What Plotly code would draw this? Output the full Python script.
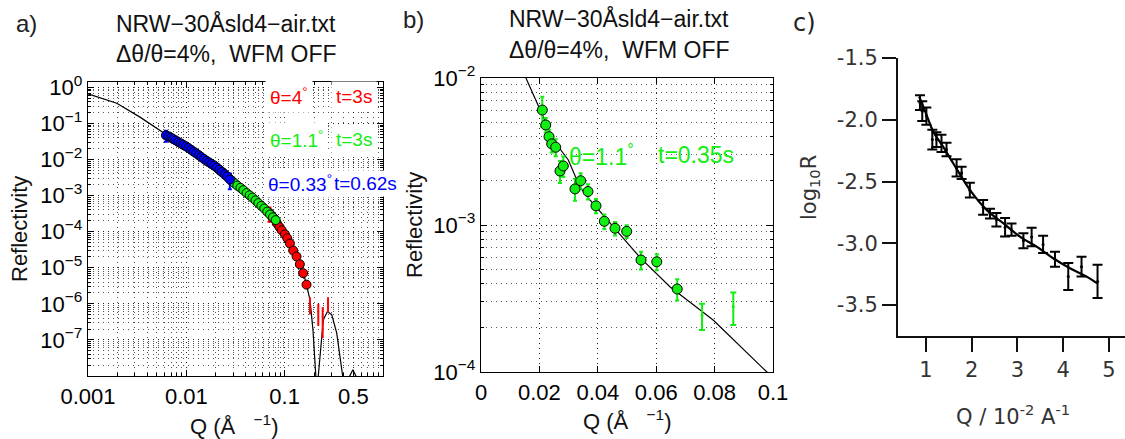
import plotly.graph_objects as go

W, H = 1125, 439

# ---- fitted reflectivity curve (shared by panels a and b) ----
fit_q = [0.0010, 0.00196, 0.00338, 0.0058, 0.0102, 0.0152, 0.0202, 0.0247, 0.0299, 0.0339,
         0.0373, 0.0452, 0.0545, 0.0647, 0.0795, 0.0979, 0.1188, 0.1432, 0.161, 0.181,
         0.194, 0.2074, 0.213, 0.2197, 0.238, 0.247, 0.272, 0.301, 0.338, 0.365,
         0.389, 0.42, 0.459, 0.494, 0.53, 0.56]
fit_r = [0.66, 0.363, 0.150, 0.0560, 0.0224, 0.0102, 0.0061, 0.0038, 0.00277, 0.00181,
         0.00148, 0.00097, 0.00060, 0.00038, 0.000226, 0.000100, 3.8e-5, 1.29e-5, 4.9e-6, 1.29e-6,
         1.9e-7, 1.0e-8, 1e-10, 1.0e-8, 1.24e-7, 3.6e-7, 6.1e-7, 5.0e-7, 1.57e-7, 3.5e-8,
         1.0e-8, 1e-10, 1.0e-8, 1.5e-8, 1.0e-8, 1e-10]

# ---- panel a : theta = 0.33 deg (blue) ----
blue_q = [0.0062, 0.0066, 0.0070, 0.0074, 0.0078, 0.0083, 0.0088, 0.0093, 0.0099, 0.0105,
          0.0112, 0.0119, 0.0126, 0.0134, 0.0142, 0.0151, 0.0160, 0.0170, 0.0181, 0.0192,
          0.0204, 0.0217, 0.0230, 0.0245, 0.0260, 0.0277]
blue_r = [0.047, 0.0440, 0.0404, 0.0366, 0.0340, 0.0305, 0.0280, 0.0256, 0.0233, 0.0210,
          0.0186, 0.0165, 0.0148, 0.0132, 0.0117, 0.0104, 0.0093, 0.0084, 0.0075, 0.0068,
          0.0060, 0.0052, 0.0045, 0.0039, 0.0034, 0.0028]
blue_err = [0.016, 0.0015, 0.0013, 0.0011, 0.0010, 0.0009, 0.0008, 0.0008, 0.0007, 0.0006,
            0.0006, 0.0005, 0.0005, 0.0004, 0.0004, 0.0003, 0.0003, 0.0003, 0.0003, 0.0002,
            0.0002, 0.0002, 0.0002, 0.0002, 0.0002, 0.0013]

# ---- panel a : theta = 1.1 deg, t = 3 s (green) ----
green_q = [0.019, 0.0205, 0.022, 0.0235, 0.025, 0.027, 0.029, 0.031, 0.033, 0.0355,
           0.038, 0.041, 0.044, 0.047, 0.0505, 0.054, 0.058, 0.062, 0.0665, 0.071,
           0.076, 0.081]
green_r = [0.0069, 0.0059, 0.0050, 0.0044, 0.0037, 0.0031, 0.0026, 0.0022, 0.0019, 0.00165,
           0.00142, 0.00118, 0.00102, 0.00088, 0.00074, 0.00062, 0.00052, 0.00044, 0.00036, 0.00030,
           0.00025, 0.00021]
green_err = [0.0008, 0.0003, 0.0003, 0.0002, 0.0002, 0.00015, 0.00013, 0.00011, 0.0001, 0.00008,
             0.00007, 0.00006, 0.00005, 0.00004, 0.00004, 0.00003, 0.00003, 0.00002, 0.00002, 0.00002,
             0.00002, 0.00003]

# ---- panel a : theta = 4 deg (red) ----
red_q = [0.070, 0.074, 0.078, 0.0834, 0.0885, 0.0932, 0.1007, 0.1063, 0.1131, 0.1222,
         0.1321, 0.1427, 0.1542, 0.1668]
red_r = [3.3e-4, 2.75e-4, 2.35e-4, 1.7e-4, 1.35e-4, 1.1e-4, 8.4e-5, 6.6e-5, 4.7e-5, 3.0e-5,
         2.05e-5, 1.25e-5, 7.1e-6, 3.4e-6]
red_err = [1.4e-4, 1.0e-5, 8e-6, 6e-6, 5e-6, 4e-6, 3e-6, 3e-6, 2e-6, 1.5e-6,
           1.2e-6, 1.0e-6, 6e-7, 4e-7]
red_bar_q = [0.181, 0.2197, 0.2436, 0.2761]
red_bar_r = [9.9e-7, 6.0e-7, 4.4e-7, 1.02e-6]
red_bar_err = [4.5e-7, 3.4e-7, 3.2e-7, 4.1e-7]

# ---- panel b : theta = 1.1 deg, t = 0.35 s ----
b_q = [0.0210, 0.02216, 0.02329, 0.02421, 0.02558, 0.02705, 0.02818, 0.03219, 0.03414, 0.03664,
       0.03938, 0.04223, 0.04589, 0.0499, 0.0548, 0.0602, 0.0672]
b_r = [6.05e-3, 4.79e-3, 3.99e-3, 3.56e-3, 3.38e-3, 2.33e-3, 2.52e-3, 1.76e-3, 2.0e-3, 1.69e-3,
       1.35e-3, 1.06e-3, 9.5e-4, 9.05e-4, 5.78e-4, 5.62e-4, 3.67e-4]
b_err = [1.4e-3, 5.5e-4, 4.5e-4, 4.5e-4, 4.5e-4, 4.0e-4, 4.0e-4, 3.0e-4, 2.5e-4, 2.0e-4,
         1.5e-4, 1.2e-4, 1.0e-4, 9e-5, 8e-5, 7e-5, 6e-5]
b_bar_q = [0.0757, 0.0864]
b_bar_r = [2.42e-4, 2.78e-4]
b_bar_err = [4.9e-5, 6.9e-5]

# ---- panel c ----
c_q = [0.87, 0.92, 1.01, 1.14, 1.23, 1.34, 1.45, 1.67, 1.78, 1.96, 2.25, 2.40, 2.54, 2.73,
       2.87, 3.13, 3.31, 3.56, 3.82, 4.11, 4.40, 4.75]
c_logr = [-1.86, -1.93, -1.97, -2.16, -2.16, -2.19, -2.24, -2.39, -2.43, -2.57, -2.71, -2.76,
          -2.81, -2.87, -2.89, -2.98, -2.95, -3.01, -3.13, -3.27, -3.19, -3.31]
c_err = [0.06, 0.08, 0.07, 0.08, 0.06, 0.07, 0.055, 0.07, 0.05, 0.06, 0.06, 0.04, 0.055, 0.075,
         0.05, 0.06, 0.075, 0.07, 0.06, 0.11, 0.08, 0.135]
c_fit_q = [0.853, 1.013, 1.160, 1.378, 1.596, 1.961, 2.325, 2.689, 3.054, 3.418, 3.781,
           4.146, 4.512, 4.743]
c_fit_logr = [-1.811, -1.960, -2.095, -2.22, -2.352, -2.568, -2.730, -2.838, -2.947, -3.028,
              -3.122, -3.203, -3.271, -3.325]

a_yticks = [1e-7, 1e-6, 1e-5, 1e-4, 1e-3, 1e-2, 1e-1, 1]
a_ytext = ["10<sup>−7</sup>", "10<sup>−6</sup>", "10<sup>−5</sup>", "10<sup>−4</sup>",
           "10<sup>−3</sup>", "10<sup>−2</sup>", "10<sup>−1</sup>", "10<sup>0</sup>"]
a_xticks = [0.001, 0.01, 0.1, 0.5]
a_xtext = ["0.001", "0.01", "0.1", "0.5"]
b_yticks = [1e-4, 1e-3, 1e-2]
b_ytext = ["10<sup>−4</sup>", "10<sup>−3</sup>", "10<sup>−2</sup>"]
c_xticks = [1, 2, 3, 4, 5]
c_yticks = [-3.5, -3.0, -2.5, -2.0, -1.5]
c_ytext = ["-3.5", "-3.0", "-2.5", "-2.0", "-1.5"]

RED, GREEN, BLUE = "#ff0000", "#11ee11", "#0000ff"
HELV = "Liberation Sans, Arial, sans-serif"
CFONT = "DejaVu Sans, sans-serif"


def px(x):
    return x / W


def py(y):
    return 1 - y / H


fig = go.Figure()

# panel a
fig.add_trace(go.Scatter(x=fit_q, y=fit_r, mode="lines", line=dict(color="black", width=1.2),
                         xaxis="x", yaxis="y", showlegend=False))
fig.add_trace(go.Scatter(x=red_bar_q, y=red_bar_r, mode="markers",
                         marker=dict(size=2, color=RED),
                         error_y=dict(type="data", array=red_bar_err, color=RED, thickness=2, width=1),
                         xaxis="x", yaxis="y", showlegend=False))
for q, r, e, c in [(red_q, red_r, red_err, RED), (green_q, green_r, green_err, GREEN),
                   (blue_q, blue_r, blue_err, BLUE)]:
    fig.add_trace(go.Scatter(x=q, y=r, mode="markers",
                             marker=dict(size=9, color=c, line=dict(color="black", width=1)),
                             error_y=dict(type="data", array=e, color=c, thickness=2, width=2),
                             xaxis="x", yaxis="y", showlegend=False))

# panel b
fig.add_trace(go.Scatter(x=fit_q, y=fit_r, mode="lines", line=dict(color="black", width=1.2),
                         xaxis="x2", yaxis="y2", showlegend=False))
fig.add_trace(go.Scatter(x=b_bar_q, y=b_bar_r, mode="markers", marker=dict(size=3, color=GREEN),
                         error_y=dict(type="data", array=b_bar_err, color=GREEN, thickness=2, width=3),
                         xaxis="x2", yaxis="y2", showlegend=False))
fig.add_trace(go.Scatter(x=b_q, y=b_r, mode="markers",
                         marker=dict(size=10, color=GREEN, line=dict(color="black", width=1)),
                         error_y=dict(type="data", array=b_err, color=GREEN, thickness=2, width=2),
                         xaxis="x2", yaxis="y2", showlegend=False))

# panel c
fig.add_trace(go.Scatter(x=c_fit_q, y=c_fit_logr, mode="lines", line=dict(color="black", width=2.2, shape="spline"),
                         xaxis="x3", yaxis="y3", showlegend=False))
fig.add_trace(go.Scatter(x=c_q, y=c_logr, mode="markers", marker=dict(size=3, color="black"),
                         error_y=dict(type="data", array=c_err, color="black", thickness=2, width=5),
                         xaxis="x3", yaxis="y3", showlegend=False))

tick_font = dict(family=HELV, size=22, color="black")
box = dict(showline=True, linecolor="black", linewidth=1.4, mirror="allticks", ticks="inside",
           ticklen=6, tickwidth=1, tickcolor="black", zeroline=False, tickfont=tick_font,
           showgrid=True, gridcolor="#222", griddash="1px,4px", gridwidth=1)
log_minor = dict(dtick="D1", ticks="inside", ticklen=3, tickcolor="black", showgrid=True,
                 gridcolor="#555", griddash="1px,4px", gridwidth=1)

fig.update_layout(
    width=W, height=H, margin=dict(l=0, r=0, t=0, b=0), template="none",
    paper_bgcolor="white", plot_bgcolor="white", showlegend=False,
    xaxis=dict(box, type="log", range=[-3, 0], domain=[px(88), px(383)], anchor="y",
               tickmode="array", tickvals=a_xticks, ticktext=a_xtext, minor=log_minor),
    yaxis=dict(box, type="log", range=[-8, 0.15], domain=[py(376), py(82)], anchor="x",
               tickmode="array", tickvals=a_yticks, ticktext=a_ytext, minor=log_minor),
    xaxis2=dict(box, range=[0, 0.1], domain=[px(481), px(773)], anchor="y2",
                tickmode="linear", tick0=0, dtick=0.02),
    yaxis2=dict(box, type="log", range=[-4, -2], domain=[py(372), py(78)], anchor="x2",
                tickmode="array", tickvals=b_yticks, ticktext=b_ytext, minor=log_minor),
    xaxis3=dict(range=[0.39, 5.35], domain=[px(898), 1.0], anchor="y3", showline=True,
                linecolor="#111", linewidth=2, ticks="outside", ticklen=14, tickwidth=2,
                tickcolor="#111", tickvals=c_xticks, showgrid=False, zeroline=False,
                tickfont=dict(family=CFONT, size=21, color="#333")),
    yaxis3=dict(range=[-3.752, -1.499], domain=[py(336), py(58)], anchor="x3", showline=True,
                linecolor="#111", linewidth=2, ticks="outside", ticklen=14, tickwidth=2,
                tickcolor="#111", tickvals=c_yticks, ticktext=c_ytext, showgrid=False,
                zeroline=False, tickfont=dict(family=CFONT, size=21, color="#333")),
)

ann = []


def text(x, y, s, size=22, color="#111", family=HELV, angle=0, xanchor="center", bg=None, pad=1):
    d = dict(x=px(x), y=py(y), xref="paper", yref="paper", text=s, showarrow=False,
             font=dict(family=family, size=size, color=color), textangle=angle,
             xanchor=xanchor, yanchor="middle", borderpad=pad)
    if bg:
        d["bgcolor"] = bg
    ann.append(d)


# panel letters
text(26, 24, "a)", size=24, color="#222")
text(413, 20, "b)", size=24, color="#222")
text(805, 23, "c)", size=24, color="#222", family=CFONT)

# titles
text(226, 23, "NRW−30Åsld4−air.txt", size=23)
text(226, 54, "Δθ/θ=4%,  WFM OFF", size=23)
text(619, 19, "NRW−30Åsld4−air.txt", size=23)
text(619, 50, "Δθ/θ=4%,  WFM OFF", size=23)

# axis titles
text(234, 425, "Q (Å   <sup>−1</sup>)", size=22)
text(627, 420, "Q (Å   <sup>−1</sup>)", size=22)
text(19, 229, "Reflectivity", size=22, angle=-90)
text(414, 225, "Reflectivity", size=22, angle=-90)
text(1013, 415, "Q / 10<sup>-2</sup> A<sup>-1</sup>", size=21, color="#333", family=CFONT)
text(810, 188, "log<sub>10</sub>R", size=21, color="#333", family=CFONT, angle=-90)

# panel a labels on white boxes (time labels first so the angle labels sit on top)
text(331, 96, "t=3s", size=19, color=RED, xanchor="left", bg="white", pad=4)
text(331, 139, "t=3s", size=19, color=GREEN, xanchor="left", bg="white", pad=4)
text(331, 183, "t=0.62s", size=19, color=BLUE, xanchor="left", bg="white", pad=2)
text(265, 96, "θ=4<sup>°</sup>", size=19, color=RED, xanchor="left", bg="white", pad=4)
text(265, 139, "θ=1.1<sup>°</sup>", size=19, color=GREEN, xanchor="left", bg="white", pad=4)
text(265, 183, "θ=0.33<sup>°</sup>", size=19, color=BLUE, xanchor="left", bg="white", pad=2)

# panel b label
text(567, 155, "θ=1.1<sup>°</sup>", size=23, color=GREEN, xanchor="left")
text(656, 155, "t=0.35s", size=23, color=GREEN, xanchor="left")

fig.update_layout(annotations=ann)
fig.write_html("out.html", config={"displayModeBar": False},
               post_script="document.body.style.margin='0';")
